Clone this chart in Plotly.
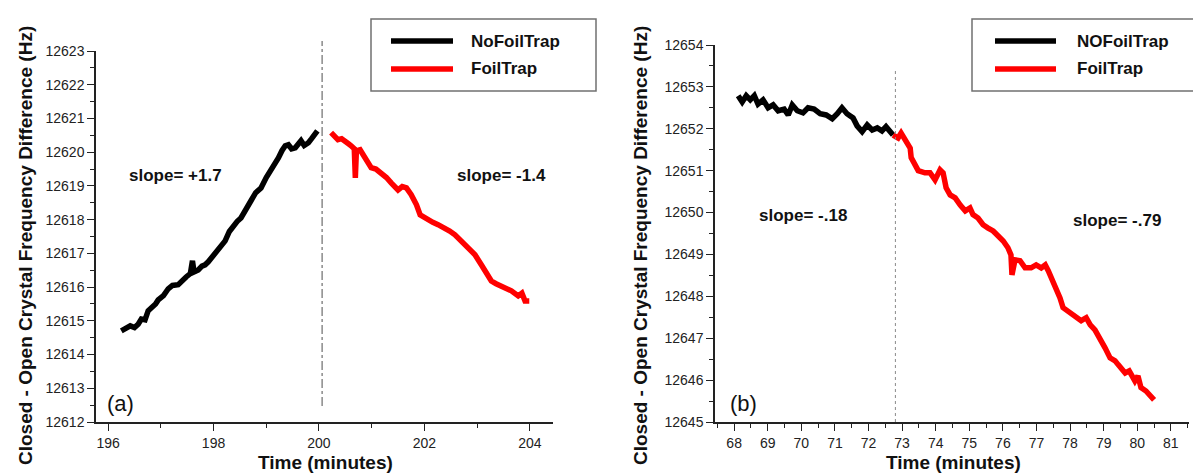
import plotly.graph_objects as go

# ---------------- data ----------------
# Panel (a)
a_nofoil_t = [196.25, 196.33, 196.42, 196.50, 196.57, 196.63, 196.70, 196.76, 196.82, 196.90,
              196.95, 197.05, 197.14, 197.22, 197.33, 197.40, 197.48, 197.56, 197.60, 197.63,
              197.71, 197.78, 197.84, 197.90, 197.96, 198.03, 198.09, 198.16, 198.22, 198.30,
              198.38, 198.45, 198.52, 198.60, 198.71, 198.80, 198.90, 199.00, 199.09, 199.16,
              199.23, 199.30, 199.36, 199.42, 199.48, 199.55, 199.60, 199.66, 199.72, 199.80,
              199.86, 199.93, 199.97]
a_nofoil_f = [12614.70, 12614.78, 12614.85, 12614.80, 12614.90, 12615.05, 12615.03, 12615.30, 12615.38, 12615.50,
              12615.62, 12615.75, 12615.95, 12616.05, 12616.07, 12616.20, 12616.30, 12616.40, 12616.78, 12616.45,
              12616.51, 12616.62, 12616.66, 12616.75, 12616.87, 12616.95, 12617.07, 12617.25, 12617.37, 12617.65,
              12617.85, 12617.95, 12618.05, 12618.30, 12618.56, 12618.80, 12618.94, 12619.25, 12619.45, 12619.65,
              12619.83, 12620.05, 12620.19, 12620.22, 12620.10, 12620.13, 12620.25, 12620.34, 12620.20, 12620.28,
              12620.40, 12620.52, 12620.63]

a_foil_t = [200.23, 200.30, 200.36, 200.43, 200.50, 200.56, 200.61, 200.67, 200.69, 200.71,
            200.78, 200.88, 200.99, 201.08, 201.18, 201.28, 201.37, 201.50, 201.58, 201.66,
            201.75, 201.85, 201.92, 202.07, 202.16, 202.26, 202.39, 202.48, 202.58, 202.68,
            202.77, 202.86, 202.96, 203.08, 203.15, 203.27, 203.36, 203.46, 203.55, 203.65,
            203.78, 203.85, 203.91, 203.99]
a_foil_f = [12620.58, 12620.45, 12620.37, 12620.40, 12620.34, 12620.25, 12620.19, 12620.10, 12619.24, 12620.04,
            12620.07, 12619.83, 12619.54, 12619.50, 12619.39, 12619.25, 12619.09, 12618.88, 12618.98, 12618.94,
            12618.74, 12618.44, 12618.14, 12617.99, 12617.92, 12617.85, 12617.76, 12617.66, 12617.55, 12617.40,
            12617.25, 12617.12, 12616.96, 12616.66, 12616.48, 12616.18, 12616.10, 12616.04, 12615.95, 12615.89,
            12615.74, 12615.82, 12615.59, 12615.59]

# Panel (b)
b_nofoil_t = [68.12, 68.24, 68.36, 68.48, 68.60, 68.71, 68.86, 69.01, 69.16, 69.31,
              69.49, 69.61, 69.73, 69.88, 70.05, 70.20, 70.38, 70.56, 70.74, 70.92,
              71.07, 71.21, 71.36, 71.54, 71.66, 71.81, 71.96, 72.11, 72.26, 72.40,
              72.52, 72.64, 72.73]
b_nofoil_f = [12652.79, 12652.64, 12652.79, 12652.69, 12652.79, 12652.59, 12652.69, 12652.50, 12652.57, 12652.43,
              12652.47, 12652.33, 12652.57, 12652.43, 12652.38, 12652.50, 12652.47, 12652.36, 12652.33, 12652.24,
              12652.36, 12652.50, 12652.36, 12652.26, 12652.07, 12651.93, 12652.09, 12651.97, 12652.02, 12651.95,
              12652.05, 12651.93, 12651.85]

b_foil_t = [72.73, 72.88, 72.97, 73.12, 73.24, 73.27, 73.39, 73.48, 73.68, 73.83,
            73.98, 74.13, 74.22, 74.31, 74.43, 74.58, 74.73, 74.88, 75.02, 75.11,
            75.26, 75.41, 75.56, 75.71, 75.86, 76.01, 76.15, 76.24, 76.27, 76.36,
            76.51, 76.66, 76.84, 76.99, 77.14, 77.26, 77.35, 77.49, 77.58, 77.70,
            77.79, 77.94, 78.15, 78.33, 78.48, 78.60, 78.74, 78.89, 79.04, 79.19,
            79.34, 79.43, 79.52, 79.64, 79.76, 79.88, 79.93, 80.02, 80.11, 80.26,
            80.38, 80.50]
b_foil_f = [12651.85, 12651.78, 12651.90, 12651.71, 12651.54, 12651.31, 12651.14, 12651.00, 12650.95, 12650.95,
            12650.78, 12651.02, 12650.95, 12650.59, 12650.42, 12650.35, 12650.18, 12650.04, 12650.11, 12649.95,
            12649.87, 12649.71, 12649.63, 12649.56, 12649.44, 12649.32, 12649.16, 12648.99, 12648.51, 12648.87,
            12648.85, 12648.68, 12648.68, 12648.75, 12648.68, 12648.75, 12648.61, 12648.37, 12648.16, 12647.96,
            12647.73, 12647.65, 12647.53, 12647.42, 12647.49, 12647.32, 12647.20, 12647.01, 12646.77, 12646.53,
            12646.46, 12646.37, 12646.29, 12646.17, 12646.22, 12646.05, 12645.98, 12646.10, 12645.82, 12645.74,
            12645.63, 12645.53]

a_legend = ["NoFoilTrap", "FoilTrap"]
b_legend = ["NOFoilTrap", "FoilTrap"]
a_slopes = ["slope= +1.7", "slope= -1.4"]
b_slopes = ["slope= -.18", "slope= -.79"]
a_switch = 200.06
b_switch = 72.8

# ---------------- layout helpers ----------------
W, H = 1201, 474
FONT = "Arial, 'Liberation Sans', sans-serif"


def px(x):
    return x / W


def py(y):
    return 1 - y / H


BLACK = "#000000"
RED = "#ff0000"
LW = 5.5

fig = go.Figure()
fig.add_trace(go.Scatter(x=a_nofoil_t, y=a_nofoil_f, mode="lines", name=a_legend[0],
                         line=dict(color=BLACK, width=LW), xaxis="x", yaxis="y", showlegend=False))
fig.add_trace(go.Scatter(x=a_foil_t, y=a_foil_f, mode="lines", name=a_legend[1],
                         line=dict(color=RED, width=LW), xaxis="x", yaxis="y", showlegend=False))
fig.add_trace(go.Scatter(x=b_nofoil_t, y=b_nofoil_f, mode="lines", name=b_legend[0],
                         line=dict(color=BLACK, width=LW), xaxis="x2", yaxis="y2", showlegend=False))
fig.add_trace(go.Scatter(x=b_foil_t, y=b_foil_f, mode="lines", name=b_legend[1],
                         line=dict(color=RED, width=LW), xaxis="x2", yaxis="y2", showlegend=False))

axis_common = dict(showgrid=False, zeroline=False, showline=True, linecolor="#222", linewidth=1.5,
                   ticks="outside", ticklen=7, tickwidth=1.3, tickcolor="#222",
                   tickfont=dict(family=FONT, size=14, color="#222"), automargin=False,
                   tickformat="d")
minor_t = dict(ticks="outside", ticklen=4, tickcolor="#222", tickwidth=1.2)

fig.update_layout(
    width=W, height=H, autosize=False,
    margin=dict(l=0, r=0, t=0, b=0),
    paper_bgcolor="white", plot_bgcolor="white",
    template="none",
    xaxis=dict(axis_common, domain=[px(88), px(545)], range=[195.77, 204.44], dtick=2, tick0=196,
               minor=dict(minor_t, dtick=1, tick0=196), anchor="y"),
    yaxis=dict(axis_common, domain=[py(414), py(43)], range=[12612, 12623], dtick=1,
               minor=dict(minor_t, dtick=0.5), anchor="x"),
    xaxis2=dict(axis_common, domain=[px(707), px(1181)], range=[67.43, 81.54], dtick=1, tick0=68,
                minor=dict(minor_t, dtick=0.5), anchor="y2"),
    yaxis2=dict(axis_common, domain=[py(414), py(37)], range=[12645, 12654], dtick=1,
                minor=dict(minor_t, dtick=0.5), anchor="x2"),
)

# switch-over markers
fig.add_shape(type="line", xref="x", yref="y domain", x0=a_switch, x1=a_switch, y0=0.043, y1=1.027,
              line=dict(color="#8a8a8a", width=1.5, dash="dashdot"))
fig.add_shape(type="line", xref="x2", yref="y2", x0=b_switch, x1=b_switch, y0=12645, y1=12653.45,
              line=dict(color="#8a8a8a", width=1, dash="dot"))

# legends (drawn as boxes with sample lines)
for (bx0, bx1, lx0, lx1, tx, labels) in [(363, 588, 383, 445, 461, a_legend),
                                          (964, 1196, 987, 1048, 1067, b_legend)]:
    fig.add_shape(type="rect", xref="paper", yref="paper", x0=px(bx0), x1=px(bx1), y0=py(83), y1=py(11),
                  line=dict(color="#707070", width=1.5), fillcolor="white", layer="below")
    for i, (yy, col) in enumerate([(33, BLACK), (61, RED)]):
        fig.add_shape(type="line", xref="paper", yref="paper", x0=px(lx0), x1=px(lx1), y0=py(yy), y1=py(yy),
                      line=dict(color=col, width=LW))
        fig.add_annotation(xref="paper", yref="paper", x=px(tx), y=py(yy), text="<b>%s</b>" % labels[i],
                           showarrow=False, xanchor="left", yanchor="middle",
                           font=dict(family=FONT, size=17, color="#111"))

texts = [
    (167, 167, a_slopes[0]), (493, 167, a_slopes[1]),
    (795, 207, b_slopes[0]), (1109, 213, b_slopes[1]),
]
for x, y, t in texts:
    fig.add_annotation(xref="paper", yref="paper", x=px(x), y=py(y), text="<b>%s</b>" % t, showarrow=False,
                       xanchor="center", yanchor="middle", font=dict(family=FONT, size=17, color="#111"))

for x, t in [(112, "(a)"), (735, "(b)")]:
    fig.add_annotation(xref="paper", yref="paper", x=px(x), y=py(395), text=t, showarrow=False,
                       xanchor="center", yanchor="middle", font=dict(family=FONT, size=22, color="#111"))

ytitle = "<b>Closed - Open Crystal Frequency Difference (Hz)</b>"
for x in (17, 632):
    fig.add_annotation(xref="paper", yref="paper", x=px(x), y=py(238), text=ytitle, showarrow=False,
                       textangle=-90, xanchor="center", yanchor="middle",
                       font=dict(family=FONT, size=19, color="#111"))
for x in (317, 945):
    fig.add_annotation(xref="paper", yref="paper", x=px(x), y=py(454), text="<b>Time (minutes)</b>",
                       showarrow=False, xanchor="center", yanchor="middle",
                       font=dict(family=FONT, size=19, color="#111"))

fig.write_html("out.html")
